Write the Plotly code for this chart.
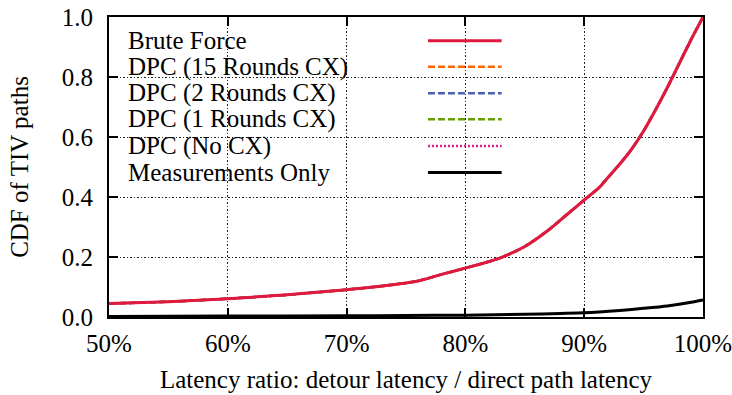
import plotly.graph_objects as go

# ---- data ----
ratio_pct = [50, 55, 60, 65, 70, 73, 76, 78, 80, 82, 83, 85, 87, 88.5, 90, 91.3, 92, 93, 94, 95, 96, 97, 98, 99, 100]
brute_force = [0.045, 0.051, 0.061, 0.074, 0.091, 0.103, 0.12, 0.142, 0.163, 0.185, 0.198, 0.235, 0.29, 0.34, 0.39,
               0.433, 0.465, 0.51, 0.56, 0.62, 0.69, 0.765, 0.845, 0.925, 1.0]
dpc_15 = brute_force
dpc_2 = brute_force
dpc_1 = brute_force
dpc_none = brute_force
meas_pct = [50, 60, 70, 75, 80, 85, 88, 90, 93, 95, 97, 99, 100]
measurements = [0.002, 0.003, 0.004, 0.005, 0.006, 0.009, 0.012, 0.014, 0.022, 0.029, 0.037, 0.049, 0.057]

x_ticks = [50, 60, 70, 80, 90, 100]
x_ticklabels = ["50%", "60%", "70%", "80%", "90%", "100%"]
y_ticks = [0.0, 0.2, 0.4, 0.6, 0.8, 1.0]
y_ticklabels = ["0.0", "0.2", "0.4", "0.6", "0.8", "1.0"]

series = [
    ("Brute Force", ratio_pct, brute_force, "#e0193f", "solid", 3),
    ("DPC (15 Rounds CX)", ratio_pct, dpc_15, "#ff6600", "7px,3px", 2.5),
    ("DPC (2 Rounds CX)", ratio_pct, dpc_2, "#4a62b0", "7px,3px", 2.5),
    ("DPC (1 Rounds CX)", ratio_pct, dpc_1, "#66a000", "7px,3px", 2.5),
    ("DPC (No CX)", ratio_pct, dpc_none, "#e0208f", "2px,2px", 2.5),
    ("Measurements Only", meas_pct, measurements, "#000000", "solid", 3),
]

FONT = "Liberation Serif"
FS = 25

fig = go.Figure()
# draw DPC series first, then brute force and measurements on top
draw_order = [1, 2, 3, 4, 0, 5]
for i in draw_order:
    name, xs, ys, color, dash, w = series[i]
    fig.add_trace(go.Scatter(x=xs, y=ys, mode="lines", name=name,
                             line=dict(color=color, dash=dash, width=w, shape="spline", smoothing=0.6),
                             showlegend=False))

# legend box (white, hides gridlines) -- gnuplot style: text left, sample right
shapes = [dict(type="rect", xref="paper", yref="paper", x0=0.003, x1=0.687, y0=0.433, y1=0.995,
               fillcolor="white", line=dict(width=0), layer="between")]
annotations = []
row_y = [0.921, 0.834, 0.746, 0.659, 0.570, 0.482]
for (name, xs, ys, color, dash, w), yy in zip(series, row_y):
    annotations.append(dict(xref="paper", yref="paper", x=0.028, y=yy, text=name, showarrow=False,
                            xanchor="left", yanchor="middle",
                            font=dict(family=FONT, size=FS, color="black")))
    shapes.append(dict(type="line", xref="paper", yref="paper", x0=0.537, x1=0.661, y0=yy, y1=yy,
                       line=dict(color=color, dash=dash, width=w), layer="above"))

fig.update_layout(
    width=732, height=395,
    margin=dict(l=109, r=29, t=17, b=78),
    paper_bgcolor="white", plot_bgcolor="white",
    font=dict(family=FONT, size=FS, color="black"),
    shapes=shapes, annotations=annotations,
    showlegend=False,
)
axis_common = dict(showline=True, linecolor="black", linewidth=2, mirror="ticks",
                   ticks="inside", ticklen=9, tickwidth=1.5, tickcolor="black",
                   showgrid=True, gridcolor="#222222", griddash="1.5px,2px", gridwidth=1,
                   zeroline=False, tickfont=dict(size=FS, family=FONT),
                   ticklabeloverflow="allow", automargin=False)
fig.update_xaxes(range=[50, 100], tickvals=x_ticks, ticktext=x_ticklabels, ticklabelstandoff=3,
                 title=dict(text="Latency ratio: detour latency / direct path latency",
                            font=dict(size=FS, family=FONT), standoff=14),
                 **axis_common)
fig.update_yaxes(range=[0, 1], tickvals=y_ticks, ticktext=y_ticklabels, ticklabelstandoff=9,
                 title=dict(text="CDF of TIV paths", font=dict(size=FS, family=FONT), standoff=26),
                 **axis_common)

# remove the default 8px page margin so the figure fills the window exactly
fig.write_html("out.html", config={"displayModeBar": False},
               post_script="document.body.style.margin='0';")
